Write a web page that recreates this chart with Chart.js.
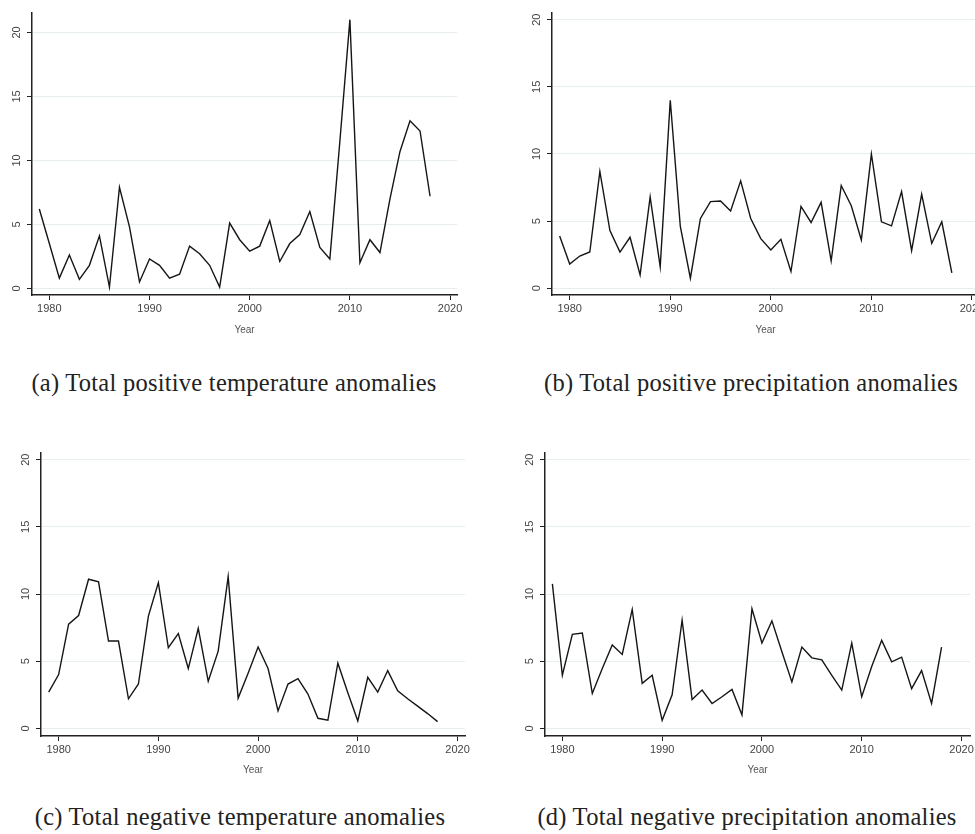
<!DOCTYPE html>
<html>
<head>
<meta charset="utf-8">
<script src="https://cdn.jsdelivr.net/npm/chart.js@4.4.1/dist/chart.umd.min.js"></script>
<style>
  html, body { margin: 0; padding: 0; background: #fff; overflow: hidden; }
  body { width: 975px; height: 834px; position: relative; }
  canvas { position: absolute; }
  .caption {
    position: absolute; width: 520px; text-align: center; white-space: nowrap;
    font-family: "Liberation Serif", serif; font-size: 24.5px; line-height: 28px;
    letter-spacing: 0.25px; color: #222;
  }
</style>
</head>
<body>
<canvas id="chartA"></canvas>
<canvas id="chartB"></canvas>
<canvas id="chartC"></canvas>
<canvas id="chartD"></canvas>
<div class="caption" id="capA">(a) Total positive temperature anomalies</div>
<div class="caption" id="capB">(b) Total positive precipitation anomalies</div>
<div class="caption" id="capC">(c) Total negative temperature anomalies</div>
<div class="caption" id="capD">(d) Total negative precipitation anomalies</div>
<script>
// data
const years = [1979, 1980, 1981, 1982, 1983, 1984, 1985, 1986, 1987, 1988,
               1989, 1990, 1991, 1992, 1993, 1994, 1995, 1996, 1997, 1998,
               1999, 2000, 2001, 2002, 2003, 2004, 2005, 2006, 2007, 2008,
               2009, 2010, 2011, 2012, 2013, 2014, 2015, 2016, 2017, 2018];

const posTemp = [6.2, 3.5, 0.8, 2.6, 0.7, 1.8, 4.1, 0.1, 7.9, 4.8,
                 0.5, 2.3, 1.8, 0.8, 1.1, 3.3, 2.7, 1.8, 0.1, 5.1,
                 3.8, 2.9, 3.3, 5.3, 2.1, 3.5, 4.2, 6.0, 3.2, 2.3,
                 11.5, 21.0, 2.0, 3.8, 2.8, 7.0, 10.7, 13.1, 12.3, 7.2];

const posPrecip = [3.9, 1.8, 2.4, 2.7, 8.7, 4.3, 2.7, 3.8, 1.0, 6.8,
                   1.6, 14.0, 4.6, 0.75, 5.2, 6.45, 6.5, 5.75, 8.0, 5.2,
                   3.7, 2.85, 3.65, 1.25, 6.1, 4.9, 6.4, 2.05, 7.65, 6.15,
                   3.6, 10.0, 4.95, 4.65, 7.2, 2.8, 7.0, 3.35, 4.95, 1.15];

const negTemp = [2.7, 4.0, 7.75, 8.4, 11.1, 10.9, 6.5, 6.5, 2.2, 3.3,
                 8.35, 10.85, 6.0, 7.05, 4.45, 7.45, 3.5, 5.75, 11.3, 2.25,
                 4.1, 6.05, 4.45, 1.3, 3.3, 3.7, 2.55, 0.75, 0.6, 4.85,
                 2.65, 0.55, 3.8, 2.7, 4.3, 2.8, 2.2, 1.65, 1.1, 0.5];

const negPrecip = [10.75, 3.95, 7.0, 7.1, 2.6, 4.45, 6.2, 5.5, 8.85, 3.35,
                   3.95, 0.6, 2.5, 8.05, 2.15, 2.85, 1.85, 2.35, 2.9, 1.0,
                   8.9, 6.35, 8.0, 5.7, 3.45, 6.05, 5.25, 5.1, 3.95, 2.85,
                   6.35, 2.35, 4.6, 6.55, 4.95, 5.3, 2.95, 4.3, 1.85, 6.05];

const xTicks = [1980, 1990, 2000, 2010, 2020];
const yTicks = [0, 5, 10, 15, 20];

// plot area of each panel in page pixels, plus the axis ranges
const panels = [
    {id: "chartA", values: posTemp, left: 32, top: 12, right: 457, bottom: 295, yearY: 330,
     xMin: 1978.27, xMax: 2020.69, yMin: -0.52, yMax: 21.6},
    {id: "chartB", values: posPrecip, left: 552, top: 12, right: 979, bottom: 295, yearY: 330,
     xMin: 1978.24, xMax: 2020.7, yMin: -0.5, yMax: 20.57},
    {id: "chartC", values: negTemp, left: 41, top: 452, right: 465, bottom: 736, yearY: 770,
     xMin: 1978.23, xMax: 2020.75, yMin: -0.57, yMax: 20.57},
    {id: "chartD", values: negPrecip, left: 545, top: 452, right: 970, bottom: 736, yearY: 770,
     xMin: 1978.26, xMax: 2020.85, yMin: -0.57, yMax: 20.57}
];

const captions = [
    {id: "capA", cx: 234, cy: 383},
    {id: "capB", cx: 751, cy: 383},
    {id: "capC", cx: 240, cy: 817},
    {id: "capD", cx: 747, cy: 817}
];

const yAxisWidth = 30;
const rightRoom = 16;   // space so the "2020" label is not cut
const axisColor = "#222";
const tickFont = {family: "Liberation Sans, Arial, sans-serif", size: 11};

function createChart(p) {
    let canvas = document.getElementById(p.id);
    let width = p.right - p.left + yAxisWidth + rightRoom;
    let height = p.yearY + 7 - p.top;
    let xAxisHeight = p.yearY + 7 - p.bottom;

    canvas.width = width;
    canvas.height = height;
    canvas.style.left = (p.left - yAxisWidth) + "px";
    canvas.style.top = p.top + "px";

    let points = [];
    for (let i = 0; i < years.length; i++) {
        points.push({x: years[i], y: p.values[i]});
    }

    return new Chart(canvas, {
        type: "line",
        data: {
            datasets: [{
                data: points,
                borderColor: "#151515",
                borderWidth: 1.4,
                pointRadius: 0,
                tension: 0,
                fill: false
            }]
        },
        options: {
            responsive: false,
            animation: false,
            devicePixelRatio: 1,
            layout: {padding: {left: 0, top: 0, bottom: 0, right: rightRoom}},
            plugins: {legend: {display: false}, tooltip: {enabled: false}},
            scales: {
                x: {
                    type: "linear",
                    min: p.xMin,
                    max: p.xMax,
                    afterBuildTicks: function(scale) {
                        scale.ticks = xTicks.map(v => ({value: v}));
                    },
                    afterFit: function(scale) {
                        scale.height = xAxisHeight;
                        scale.paddingLeft = 0;
                        scale.paddingRight = 0;
                    },
                    border: {display: true, color: axisColor, width: 1.5},
                    grid: {
                        display: true,
                        drawOnChartArea: false,
                        tickLength: 5,
                        tickColor: axisColor,
                        tickWidth: 1
                    },
                    ticks: {
                        autoSkip: false,
                        maxRotation: 0,
                        padding: 2,
                        color: "#444",
                        font: tickFont,
                        callback: v => String(v)
                    },
                    title: {
                        display: true,
                        text: "Year",
                        color: "#555",
                        font: {family: "Liberation Sans, Arial, sans-serif", size: 10},
                        padding: {top: 0, bottom: 1}
                    }
                },
                y: {
                    type: "linear",
                    min: p.yMin,
                    max: p.yMax,
                    afterBuildTicks: function(scale) {
                        scale.ticks = yTicks.map(v => ({value: v}));
                    },
                    afterFit: function(scale) {
                        scale.width = yAxisWidth;
                        scale.paddingTop = 0;
                        scale.paddingBottom = 0;
                    },
                    border: {display: true, color: axisColor, width: 1.5},
                    grid: {
                        color: "#e6eeee",
                        lineWidth: 1,
                        tickLength: 5,
                        tickColor: axisColor,
                        tickWidth: 1
                    },
                    ticks: {
                        autoSkip: false,
                        minRotation: 90,
                        maxRotation: 90,
                        crossAlign: "center",
                        padding: 4,
                        color: "#444",
                        font: tickFont,
                        callback: v => String(v)
                    }
                }
            }
        }
    });
}

panels.forEach(p => createChart(p));

captions.forEach(c => {
    let el = document.getElementById(c.id);
    el.style.left = (c.cx - 260) + "px";
    el.style.top = (c.cy - 14) + "px";
});
</script>
</body>
</html>
